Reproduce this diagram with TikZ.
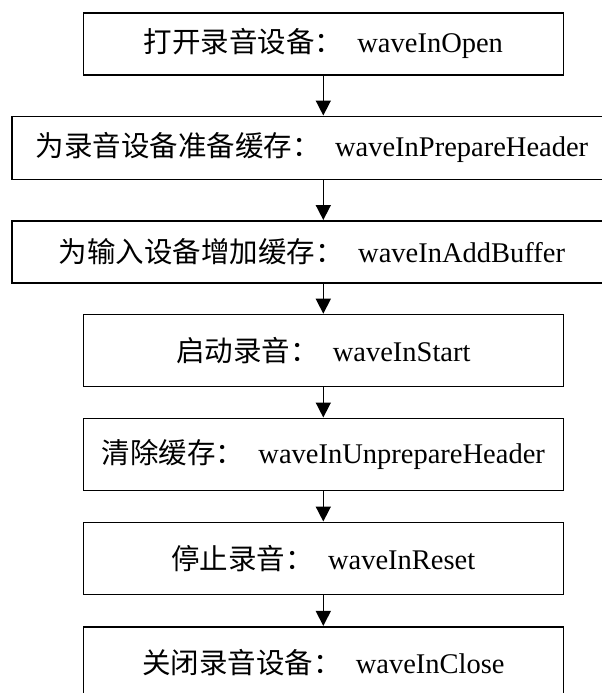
\documentclass[tikz,border=0pt]{standalone}
\usepackage{fontspec}
\setmainfont{Liberation Serif}
\newfontfamily\cjk{Noto Sans CJK SC}
\usetikzlibrary{arrows.meta}

\tikzset{
	stepbox/.style={draw, rectangle, line width=1.6pt, minimum width=480pt, minimum height=62pt, inner sep=0pt, font=\fontsize{28.5}{33}\selectfont},
	flow/.style={line width=1.6pt, -{Triangle[width=15pt,length=15pt]}}
}

\begin{document}
\begin{tikzpicture}[x=1pt,y=-1pt]
	
		\useasboundingbox (0,0) rectangle (602,693);
		
		% boxes
		\node[stepbox] (open) at (323.3,43.8) {{\cjk 打开录音设备：}\ \ waveInOpen};
		\node[stepbox, minimum width=600pt, minimum height=63pt] (prep) at (312,147.8) {{\cjk 为录音设备准备缓存：}\ \ waveInPrepareHeader};
		\node[stepbox, minimum width=600pt] (add) at (312,251.8) {{\cjk 为输入设备增加缓存：}\ \ waveInAddBuffer};
		\node[stepbox, minimum height=72pt] (start) at (323.3,350.5) {{\cjk 启动录音：}\ \ waveInStart};
		\node[stepbox, minimum height=72pt] (unprep) at (323.3,454.3) {{\cjk 清除缓存：}\ \ waveInUnprepareHeader};
		\node[stepbox, minimum height=72pt] (reset) at (323.3,558.3) {{\cjk 停止录音：}\ \ waveInReset};
		\node[stepbox, minimum height=72pt] (close) at (323.3,662.7) {{\cjk 关闭录音设备：}\ \ waveInClose};
		
		% arrows
		\draw[flow] (open) -- (prep.north -| open);
		\draw[flow] (prep.south -| open) -- (add.north -| open);
		\draw[flow] (add.south -| open) -- (start);
		\draw[flow] (start) -- (unprep);
		\draw[flow] (unprep) -- (reset);
		\draw[flow] (reset) -- (close);
	
	\end{tikzpicture}
\end{document}
